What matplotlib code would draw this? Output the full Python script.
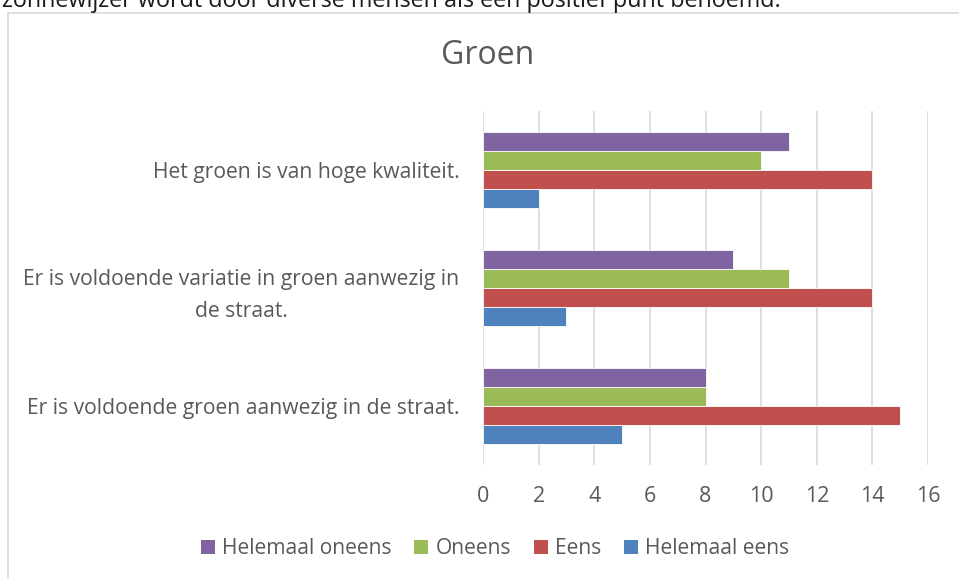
import matplotlib
matplotlib.use("Agg")
import matplotlib.pyplot as plt
from matplotlib.patches import Patch
from matplotlib.lines import Line2D
import numpy as np

categories = [
    "Er is voldoende groen aanwezig in de straat.",
    "Er is voldoende variatie in groen aanwezig in\nde straat.",
    "Het groen is van hoge kwaliteit.",
]
series_names = ["Helemaal eens", "Eens", "Oneens", "Helemaal oneens"]
helemaal_eens = [5, 3, 2]
eens = [15, 14, 14]
oneens = [8, 11, 10]
helemaal_oneens = [8, 9, 11]
xticks = [0, 2, 4, 6, 8, 10, 12, 14, 16]

values = [helemaal_eens, eens, oneens, helemaal_oneens]
colors = ["#4F81BD", "#C0504D", "#9BBB59", "#8064A2"]

plt.rcParams['font.family'] = ['Open Sans', 'DejaVu Sans']
TXT = "#595959"

W, H = 959, 579
fig = plt.figure(figsize=(W / 100, H / 100), dpi=100)

def fx(px):
    return px / W

def fy(py):
    return 1 - py / H

# chart frame (left and top borders visible)
fig.add_artist(Line2D([fx(8), fx(8)], [fy(12.5), 0], color="#D9D9D9", lw=1.2))
fig.add_artist(Line2D([fx(8), 1], [fy(12.5), fy(12.5)], color="#D9D9D9", lw=1.2))

# cut-off document text at the top
fig.text(fx(2), fy(7), "zonnewijzer wordt door diverse mensen als een positief punt benoemd.",
         fontsize=16.8, color="#1a1a1a", ha="left", va="baseline")

ax_l, ax_r, ax_t, ax_b = 483, 928, 111, 465
ax = fig.add_axes([fx(ax_l), fy(ax_b), fx(ax_r - ax_l), (ax_b - ax_t) / H])

y = np.arange(len(categories))
h = 0.161
for i, (vals, col, name) in enumerate(zip(values, colors, series_names)):
    ax.barh(y + (i - 1.5) * h, vals, height=h, color=col, edgecolor="white",
            linewidth=0.6, label=name, zorder=3)

ax.set_xlim(0, 16)
ax.set_ylim(-0.5, 2.5)
ax.set_xticks(xticks)
ax.set_xticklabels([str(t) for t in xticks])
ax.set_yticks(y)
ax.set_yticklabels(categories, multialignment="center", linespacing=1.65)
ax.tick_params(axis="both", length=0, labelcolor=TXT)
ax.tick_params(axis="y", pad=17, labelsize=15.2)
ax.tick_params(axis="x", pad=15, labelsize=15.5)
for s in ax.spines.values():
    s.set_visible(False)
ax.grid(axis="x", color="#D9D9D9", lw=1.2, zorder=0)
ax.set_axisbelow(True)

fig.text(fx(488), fy(56), "Groen", fontsize=23, color=TXT, ha="center", va="center")

handles = [Patch(facecolor=c, edgecolor="none") for c in colors][::-1]
labels = series_names[::-1]
fig.legend(handles, labels, loc="center", bbox_to_anchor=(fx(495), fy(549)), ncol=4,
           frameon=False, fontsize=15.1, labelcolor=TXT, handlelength=0.67,
           handleheight=0.67, handletextpad=0.33, columnspacing=1.1)

fig.savefig("out.png", dpi=100, facecolor="white")
